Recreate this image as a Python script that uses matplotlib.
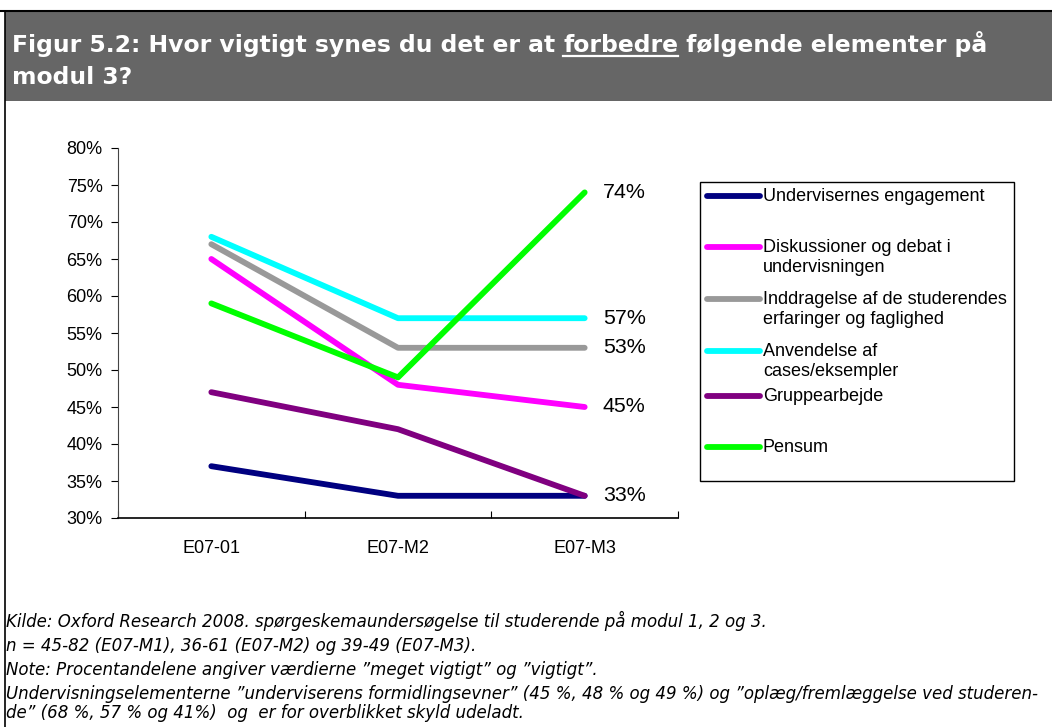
import numpy as np
import matplotlib
matplotlib.use("Agg")
import matplotlib.pyplot as plt
from matplotlib.patches import Rectangle
from matplotlib.lines import Line2D

# data
periods = ["E07-01", "E07-M2", "E07-M3"]
series_names = [
    "Undervisernes engagement",
    "Diskussioner og debat i\nundervisningen",
    "Inddragelse af de studerendes\nerfaringer og faglighed",
    "Anvendelse af\ncases/eksempler",
    "Gruppearbejde",
    "Pensum",
]
engagement = [37, 33, 33]
diskussion = [65, 48, 45]
inddragelse = [67, 53, 53]
anvendelse = [68, 57, 57]
gruppe = [47, 42, 33]
pensum = [59, 49, 74]
series_values = [engagement, diskussion, inddragelse, anvendelse, gruppe, pensum]
series_colors = ["#000080", "#FF00FF", "#999999", "#00FFFF", "#800080", "#00FF00"]
end_labels = ["74%", "57%", "53%", "45%", "33%"]
end_label_values = [74, 57, 53, 45, 33]
y_ticks = [30, 35, 40, 45, 50, 55, 60, 65, 70, 75, 80]

title_parts = ["Figur 5.2: Hvor vigtigt synes du det er at ", "forbedre", " følgende elementer på"]
title_line2 = "modul 3?"
notes = [
    "Kilde: Oxford Research 2008. spørgeskemaundersøgelse til studerende på modul 1, 2 og 3.",
    "n = 45-82 (E07-M1), 36-61 (E07-M2) og 39-49 (E07-M3).",
    "Note: Procentandelene angiver værdierne \u201dmeget vigtigt\u201d og \u201dvigtigt\u201d.",
    "Undervisningselementerne \u201dunderviserens formidlingsevner\u201d (45 %, 48 % og 49 %) og \u201doplæg/fremlæggelse ved studeren-",
    "de\u201d (68 %, 57 % og 41%)  og  er for overblikket skyld udeladt.",
]

W, H = 1052, 727
fig = plt.figure(figsize=(W / 100, H / 100), dpi=100)
fig.patch.set_facecolor("white")

def fx(px):
    return px / W

def fy(py):
    return 1 - py / H

# frame: top rule, grey banner, left border
fig.add_artist(Rectangle((fx(5), fy(101)), fx(W - 5), fy(12) - fy(101),
                         transform=fig.transFigure, facecolor="#666666", edgecolor="none"))
fig.add_artist(Line2D([0, 1], [fy(11), fy(11)], transform=fig.transFigure, color="black", lw=1.5))
fig.add_artist(Line2D([fx(5), fx(5)], [fy(11), 0], transform=fig.transFigure, color="black", lw=1.2))

# title with underlined word
renderer = fig.canvas.get_renderer()
tfont = dict(family="DejaVu Sans", weight="bold", size=16.9, color="white", va="baseline")
x = fx(12)
base1 = fy(52)
for i, part in enumerate(title_parts):
    t = fig.text(x, base1, part, **tfont)
    bb = t.get_window_extent(renderer)
    if i == 1:
        fig.add_artist(Line2D([bb.x0 / W, bb.x1 / W], [base1 - 4 / H, base1 - 4 / H],
                              transform=fig.transFigure, color="white", lw=1.6))
    x = bb.x1 / W
fig.text(fx(12), fy(84), title_line2, **tfont)

# main axes
ax = fig.add_axes([fx(118), fy(518), fx(678) - fx(118), fy(148) - fy(518)])
xpos = np.arange(len(periods))
for vals, col in zip(series_values, series_colors):
    ax.plot(xpos, vals, color=col, lw=4.2, solid_capstyle="round", solid_joinstyle="round")

ax.set_xlim(-0.5, 2.5)
ax.set_ylim(30, 80)
ax.set_yticks(y_ticks)
ax.set_yticklabels([f"{v}%" for v in y_ticks], family="Liberation Sans", fontsize=13)
ax.set_xticks([-0.5, 0.5, 1.5, 2.5])
ax.set_xticklabels([])
ax.set_xticks(xpos, minor=True)
ax.set_xticklabels(periods, minor=True, family="Liberation Sans", fontsize=13)
ax.tick_params(axis="x", which="minor", length=0, pad=16)
ax.tick_params(axis="x", which="major", length=5, direction="in", width=0.8)
ax.tick_params(axis="y", length=5, direction="out", width=0.8, pad=6)
for s in ["top", "right"]:
    ax.spines[s].set_visible(False)
ax.spines["left"].set_color("#444444")
ax.spines["bottom"].set_color("black")
ax.spines["bottom"].set_linewidth(1.2)

for lab, v in zip(end_labels, end_label_values):
    ax.annotate(lab, (2, v), xytext=(13, 0), textcoords="offset points",
                va="center", ha="left", family="Liberation Sans", fontsize=15.4, annotation_clip=False)

# legend box drawn by hand
fig.add_artist(Rectangle((fx(700), fy(481)), fx(1014) - fx(700), fy(182) - fy(481),
                         transform=fig.transFigure, facecolor="white", edgecolor="black", lw=1.0))
leg_y = [196, 247, 299, 351, 396, 447]
for name, col, py in zip(series_names, series_colors, leg_y):
    fig.add_artist(Line2D([fx(707), fx(760)], [fy(py), fy(py)], transform=fig.transFigure,
                          color=col, lw=4.2, solid_capstyle="round"))
    fig.text(fx(763), fy(py) + 8 / H, name, family="Liberation Sans", fontsize=13,
             va="top", ha="left", linespacing=1.25)

# footnotes
note_y = [627, 651, 675, 699, 718]
for line, py in zip(notes, note_y):
    fig.text(fx(6), fy(py), line, family="DejaVu Sans", style="italic", fontsize=12,
             va="baseline", ha="left")

fig.savefig("out.png", dpi=100)
